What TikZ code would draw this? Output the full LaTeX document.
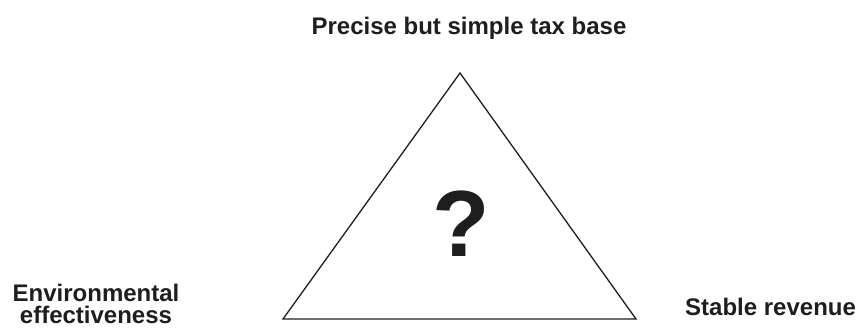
\documentclass[tikz,border=0pt]{standalone}
\usepackage{fontspec}
\setmainfont{Liberation Sans}
\usepackage{xcolor}
\usepackage{tikz}
\usetikzlibrary{positioning}
\definecolor{inkgray}{RGB}{30,30,30}

\begin{document}
\begin{tikzpicture}[x=1pt, y=-1pt, font=\bfseries,
    lbl/.style={inkgray, inner sep=0pt, align=center, font=\fontsize{24}{24}\selectfont\bfseries},
    tri/.style={draw=inkgray, line width=1.3pt, line join=miter}]
    \useasboundingbox (0,0) rectangle (858,329);
    \coordinate (apex) at (460,73);
    \coordinate (left) at (283,319);
    \coordinate (right) at (636,319);
    \draw[tri] (apex)--(left)--(right)--cycle;
    \node[inkgray, inner sep=0pt, font=\fontsize{94}{94}\selectfont\bfseries] (q) at (461,224) {?};
    \node[lbl, anchor=base] (base) at (469,35) {Precise but simple tax base};
    \node[lbl, anchor=base west] (rev) at (685,315) {Stable revenue};
    \node[lbl, anchor=base, font=\fontsize{24}{22}\selectfont\bfseries] (env) at (96,323) {Environmental\\effectiveness};
\end{tikzpicture}
\end{document}
